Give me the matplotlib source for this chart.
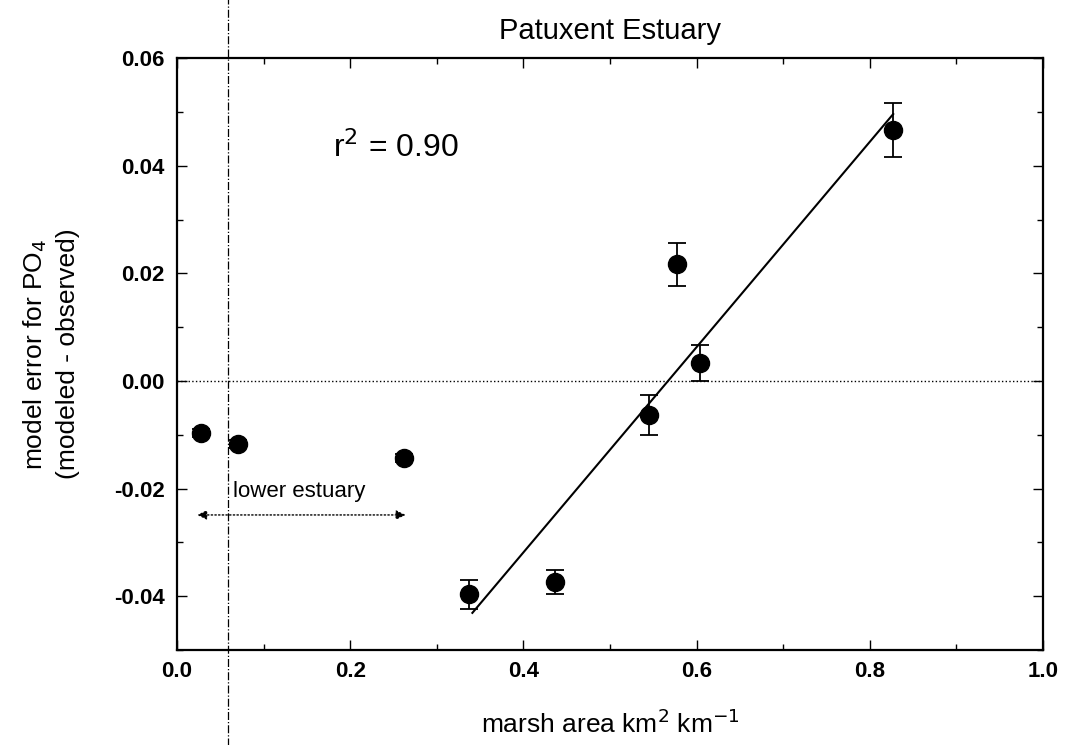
import matplotlib
matplotlib.use("Agg")
import matplotlib.pyplot as plt
import numpy as np

plt.rcParams["font.family"] = ["Liberation Sans", "DejaVu Sans"]

# marsh area (km2 km-1) and model error for PO4
marsh = [0.028, 0.070, 0.262, 0.337, 0.436, 0.545, 0.577, 0.604, 0.827]
err = [-0.0097, -0.0117, -0.0143, -0.0396, -0.0374, -0.0063, 0.0217, 0.0033, 0.0467]
sd = [0.0008, 0.0008, 0.0008, 0.0027, 0.0022, 0.0037, 0.0040, 0.0033, 0.0050]

# regression line endpoints (upper estuary points)
fit_x = [0.341, 0.827]
fit_y = [-0.0431, 0.0496]

boundary_x = 0.059
arrow_x = [0.02, 0.267]
arrow_y = -0.0249

fig = plt.figure(figsize=(10.67, 7.45), dpi=100)
ax = fig.add_axes([0.166, 0.1275, 0.8115, 0.7945])

ax.errorbar(marsh, err, yerr=sd, fmt="o", color="black", ms=13,
            capsize=6.5, elinewidth=1.3, capthick=1.3)
ax.plot(fit_x, fit_y, color="black", lw=1.5)
ax.axhline(0, color="black", ls=":", lw=1)
ax.axvline(boundary_x, ymin=-0.2, ymax=1.2, color="black", ls="-.", lw=0.9,
           clip_on=False)

ax.annotate("", xy=(arrow_x[0], arrow_y), xytext=(arrow_x[1], arrow_y),
            arrowprops=dict(arrowstyle="<|-|>", ls=":", color="black", lw=1,
                            mutation_scale=14))
ax.text(0.065, -0.0216, "lower estuary", fontsize=16)
ax.text(0.18, 0.0416, "r$^2$ = 0.90", fontsize=23)

ax.set_xlim(0, 1.0)
ax.set_ylim(-0.05, 0.06)
ax.set_xticks(np.arange(0, 1.01, 0.2))
ax.set_xticks(np.arange(0, 1.01, 0.1), minor=True)
ax.set_yticks([-0.04, -0.02, 0.0, 0.02, 0.04, 0.06])
ax.set_yticks(np.arange(-0.05, 0.061, 0.01), minor=True)
ax.xaxis.set_major_formatter(matplotlib.ticker.FormatStrFormatter("%.1f"))
ax.yaxis.set_major_formatter(matplotlib.ticker.FormatStrFormatter("%.2f"))
ax.tick_params(which="both", direction="in", top=True, right=True, width=1)
ax.tick_params(which="major", length=7, labelsize=16)
ax.tick_params(axis="x", which="major", pad=8)
ax.tick_params(axis="y", which="major", pad=9)
ax.tick_params(which="minor", length=4)
for lab in ax.get_xticklabels() + ax.get_yticklabels():
    lab.set_fontweight("bold")
for s in ax.spines.values():
    s.set_linewidth(1.6)

ax.set_title("Patuxent Estuary", fontsize=21, pad=14)
ax.set_xlabel("marsh area km$^2$ km$^{-1}$", fontsize=19, labelpad=20)
ax.set_ylabel("model error for PO$_4$\n(modeled - observed)", fontsize=19,
              linespacing=1.35)
ax.yaxis.set_label_coords(-0.112, 0.5)

fig.savefig("out.png", dpi=100)
